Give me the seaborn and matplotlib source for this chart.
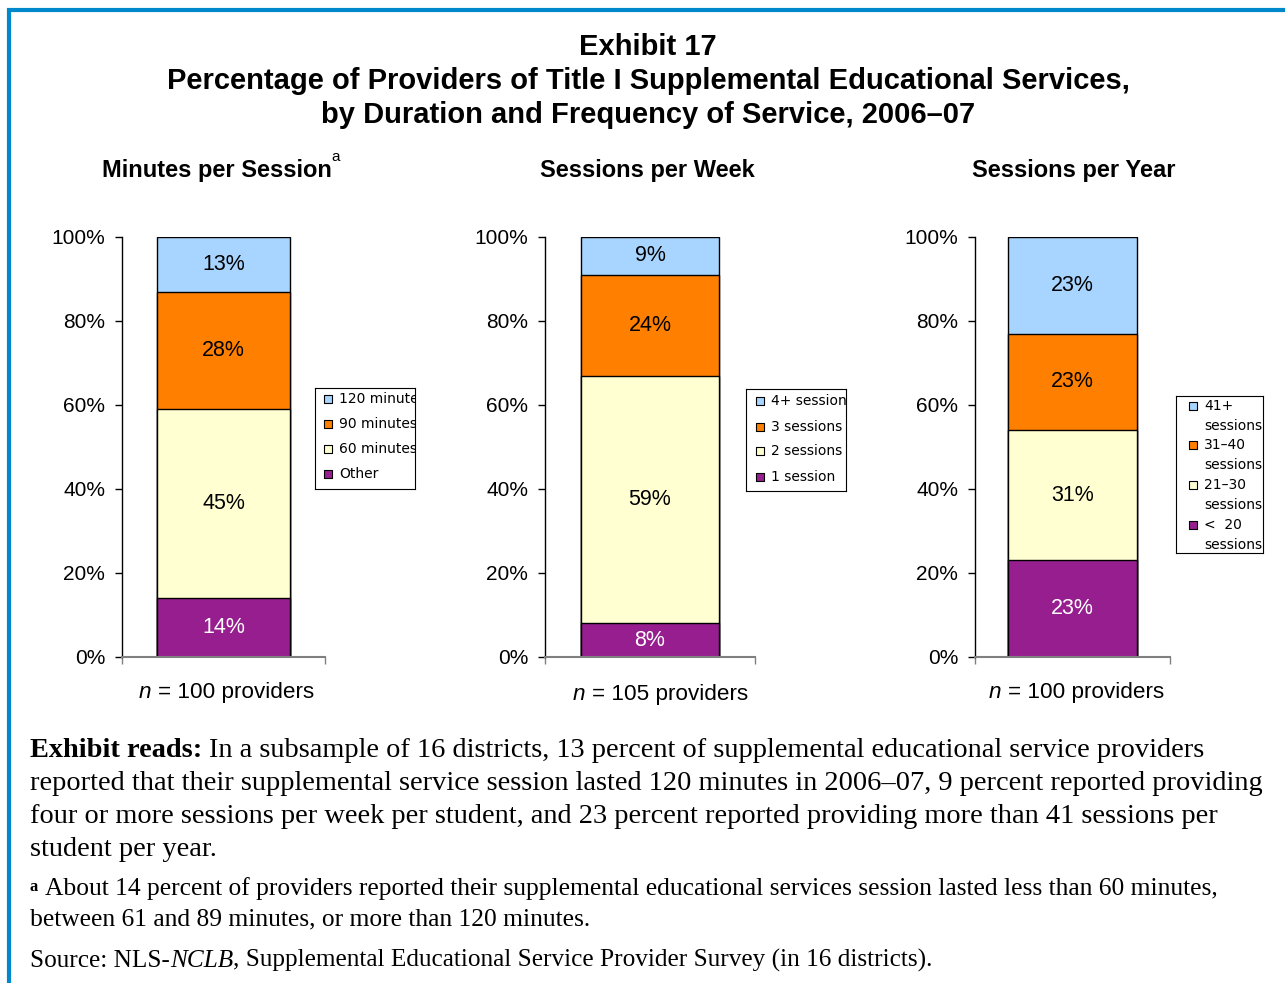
import numpy as np
import pandas as pd
import matplotlib
matplotlib.use('Agg')
import matplotlib.pyplot as plt
import seaborn as sns

# ---- data (segments listed bottom to top) ----
minutes_labels = ['Other', '60 minutes', '90 minutes', '120 minutes']
minutes_pct = [14, 45, 28, 13]
week_labels = ['1 session', '2 sessions', '3 sessions', '4+ sessions']
week_pct = [8, 59, 24, 9]
year_labels = ['<  20\nsessions', '21\u201330\nsessions', '31\u201340\nsessions', '41+\nsessions']
year_pct = [23, 31, 23, 23]

panel_titles = ['Minutes per Session', 'Sessions per Week', 'Sessions per Year']
n_texts = ['= 100 providers', '= 105 providers', '= 100 providers']
seg_colors = ['#971E8F', '#FFFFD2', '#FF8000', '#A8D5FF']
label_colors = ['white', 'black', 'black', 'black']
yticks = [0, 20, 40, 60, 80, 100]

W, H = 1285, 983
fig = plt.figure(figsize=(W / 100, H / 100), dpi=100)
plt.rcParams['font.family'] = ['Liberation Sans', 'DejaVu Sans']

# background axes in pixel coordinates for the frame and free text
bg = fig.add_axes([0, 0, 1, 1], zorder=-1)
bg.set_xlim(0, W)
bg.set_ylim(H, 0)
bg.axis('off')
renderer = fig.canvas.get_renderer()

# blue frame (top and left)
bg.plot([7, W], [10, 10], color='#0088CC', lw=3, solid_capstyle='butt')
bg.plot([9, 9], [8, H], color='#0088CC', lw=3, solid_capstyle='butt')


def put_runs(x, y, parts, size, family, gap_em=0.25, color='black'):
    # parts: (text, weight, style, space_before)
    cx = x
    for s, weight, style, space in parts:
        if space:
            cx += gap_em * size * 100 / 72
        t = bg.text(cx, y, s, fontsize=size, family=family, fontweight=weight,
                    fontstyle=style, va='baseline', ha='left', color=color)
        cx += t.get_window_extent(renderer).width
    return cx


# main title
bg.text(648, 55, 'Exhibit 17', ha='center', va='baseline', fontsize=21, fontweight='bold')
bg.text(648, 89, 'Percentage of Providers of Title I Supplemental Educational Services,',
        ha='center', va='baseline', fontsize=21, fontweight='bold')
bg.text(648, 123, 'by Duration and Frequency of Service, 2006\u201307',
        ha='center', va='baseline', fontsize=21, fontweight='bold')

# ---- panels ----
axes_px = [(122, 325), (545, 755), (975, 1170)]
top_px, bot_px = 237, 657
all_pct = [minutes_pct, week_pct, year_pct]
all_labels = [minutes_labels, week_labels, year_labels]
n_x = [139, 573, 989]
title_x = [0.470, 0.488, 0.505]
panel_axes = []

for k in range(3):
    l, r = axes_px[k]
    ax = fig.add_axes([l / W, 1 - bot_px / H, (r - l) / W, (bot_px - top_px) / H])
    panel_axes.append(ax)
    pct = all_pct[k]
    cum = np.cumsum(pct)
    for i in range(3, -1, -1):
        seg = pd.DataFrame({'bar': ['all'], 'top': [cum[i]]})
        sns.barplot(data=seg, x='bar', y='top', color=seg_colors[i], saturation=1,
                    width=0.66, edgecolor='black', linewidth=1, ax=ax)
    for i in range(4):
        ax.text(0, cum[i] - pct[i] / 2, f'{pct[i]}%', ha='center', va='center',
                fontsize=15.5, color=label_colors[i])
    ax.set_xlim(-0.5, 0.5)
    ax.set_ylim(0, 100)
    ax.set_xlabel('')
    ax.set_ylabel('')
    ax.set_yticks(yticks)
    ax.set_yticklabels([f'{v}%' for v in yticks], fontsize=15)
    ax.set_xticks([-0.5, 0.5])
    ax.set_xticklabels(['', ''])
    ax.tick_params(axis='y', length=5, width=1, pad=7, color='black')
    ax.tick_params(axis='x', length=5, width=1, color='#808080')
    ax.spines['top'].set_visible(False)
    ax.spines['right'].set_visible(False)
    ax.spines['left'].set_color('black')
    ax.spines['left'].set_linewidth(1)
    ax.spines['bottom'].set_color('#808080')
    ax.spines['bottom'].set_linewidth(1.5)
    ax.set_title(panel_titles[k], fontsize=17, fontweight='bold', pad=43)
    ax.title.set_x(title_x[k])

    # n = ... label
    put_runs(n_x[k], 698 if k != 1 else 700,
             [('n', 'normal', 'italic', False), (n_texts[k], 'normal', 'normal', True)],
             16.2, 'Liberation Sans', gap_em=0.278)

# superscript on first panel title
ext = panel_axes[0].title.get_window_extent(renderer)
bg.text(ext.x1 - 1, 161, 'a', fontsize=11, va='baseline', ha='left')

# ---- legends (boxes clip long labels) ----
legend_boxes = [(315, 388, 415, 489), (746, 389, 846, 491), (1176, 396, 1263, 553)]
legend_marker_x = [13, 14, 17]
legend_text_x = [24, 25, 28]
legend_rows = [[11, 36, 61, 86], [12, 38, 62, 88], [10, 49, 89, 129]]
for k in range(3):
    x0, y0, x1, y1 = legend_boxes[k]
    lax = fig.add_axes([x0 / W, 1 - y1 / H, (x1 - x0) / W, (y1 - y0) / H])
    lax.set_xlim(0, x1 - x0)
    lax.set_ylim(y1 - y0, 0)
    lax.set_xticks([])
    lax.set_yticks([])
    for sp in lax.spines.values():
        sp.set_linewidth(0.8)
        sp.set_color('black')
    labels = all_labels[k][::-1]
    colors = seg_colors[::-1]
    for j, lab in enumerate(labels):
        yy = legend_rows[k][j]
        lax.scatter([legend_marker_x[k]], [yy], marker='s', s=26, c=colors[j],
                    edgecolors='black', linewidths=0.8, clip_on=True)
        for m, line in enumerate(lab.split('\n')):
            lax.text(legend_text_x[k], yy + m * 20, line, fontsize=10, family='DejaVu Sans',
                     va='center', ha='left', clip_on=True)

# ---- notes below the chart ----
serif = 'Liberation Serif'
fs = 20.4
put_runs(30, 757, [('Exhibit reads:', 'bold', 'normal', False),
                   ('In a subsample of 16 districts, 13 percent of supplemental educational service providers',
                    'normal', 'normal', True)], fs, serif)
put_runs(30, 790, [('reported that their supplemental service session lasted 120 minutes in 2006\u201307, 9 percent reported providing',
                    'normal', 'normal', False)], fs, serif)
put_runs(30, 823, [('four or more sessions per week per student, and 23 percent reported providing more than 41 sessions per',
                    'normal', 'normal', False)], fs, serif)
put_runs(30, 856, [('student per year.', 'normal', 'normal', False)], fs, serif)

fs2 = 18.4
put_runs(30, 891, [('a', 'bold', 'normal', False)], 12, serif)
put_runs(45, 895, [('About 14 percent of providers reported their supplemental educational services session lasted less than 60 minutes,',
                    'normal', 'normal', False)], fs2, serif)
put_runs(30, 925, [('between 61 and 89 minutes, or more than 120 minutes.', 'normal', 'normal', False)], fs2, serif)
put_runs(30, 967, [('Source: NLS-', 'normal', 'normal', False), ('NCLB', 'normal', 'italic', False),
                   (', Supplemental Educational Service Provider Survey (in 16 districts).', 'normal', 'normal', False)],
         18.2, serif)

fig.savefig('out.png', dpi=100)
